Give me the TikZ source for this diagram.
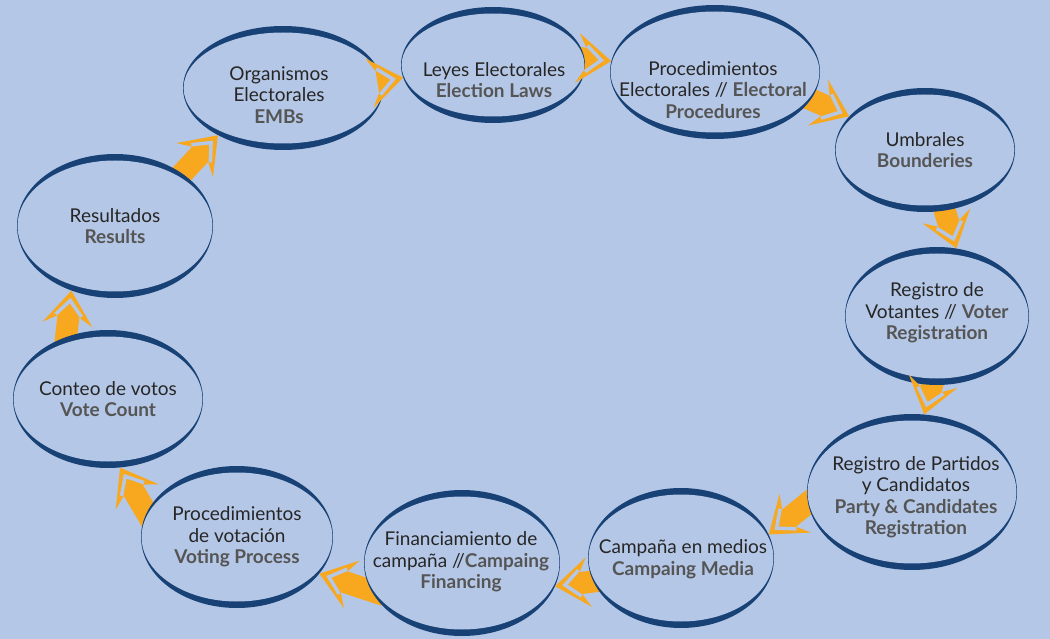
\documentclass[tikz,border=0pt]{standalone}
\usepackage{fontspec}
\setmainfont{Lato}
\usetikzlibrary{shapes.geometric,decorations.markings,calc}

\definecolor{paper}{RGB}{181,199,230}
\definecolor{rim}{RGB}{24,66,118}
\definecolor{gold}{RGB}{247,168,30}
\definecolor{ink}{RGB}{38,38,38}
\definecolor{engtext}{RGB}{85,85,85}

\pgfdeclarelayer{back}
\pgfdeclarelayer{flows}
\pgfsetlayers{back,flows,main}

\newcommand{\eng}[1]{{\color{engtext}\bfseries #1}}

\tikzset{
  stage/.style={ellipse, fill=rim, inner sep=0pt,
    path picture={\fill[paper] let \p1=(path picture bounding box.north east),
      \p2=(path picture bounding box.center) in
      (\p2) ellipse [x radius={\x1-\x2-0.6pt}, y radius={\y1-\y2-6.5pt}];}},
  caption/.style={align=center, text=ink, font=\fontsize{19}{21.5}\selectfont},
  flowstem/.style={draw=gold, line width=22pt, shorten <=-14pt, shorten >=20pt},
  flowhead/.style={postaction=decorate, decoration={markings,
    mark=at position 1 with {
      \fill[gold] (0,0) -- (-34pt,25pt) -- (-26pt,11pt) -- (-26pt,-11pt) -- (-34pt,-25pt) -- cycle;
      \draw[paper, line width=3.5pt, line join=miter] (-25pt,13pt) -- (-10pt,0pt) -- (-25pt,-13pt);}}}
}

\begin{document}
\begin{tikzpicture}[x=1pt, y=-1pt]
  \useasboundingbox (0,0) rectangle (1050,639);
  \begin{pgfonlayer}{back}
    \fill[paper] (0,0) rectangle (1050,639);
  \end{pgfonlayer}

  % the eleven stages
  \node[stage, minimum width=200pt, minimum height=124pt] (emb) at (283,88) {};
  \node[stage, minimum width=184pt, minimum height=116pt] (laws) at (493,65) {};
  \node[stage, minimum width=210pt, minimum height=134pt] (proc) at (715,72) {};
  \node[stage, minimum width=180pt, minimum height=124pt] (umbr) at (925,150) {};
  \node[stage, minimum width=184pt, minimum height=138pt] (voters) at (937,316) {};
  \node[stage, minimum width=210pt, minimum height=156pt] (parties) at (912,492) {};
  \node[stage, minimum width=186pt, minimum height=140pt] (media) at (681,558) {};
  \node[stage, minimum width=196pt, minimum height=146pt] (finance) at (462,563) {};
  \node[stage, minimum width=192pt, minimum height=142pt] (voting) at (237,537) {};
  \node[stage, minimum width=190pt, minimum height=138pt] (count) at (108,399) {};
  \node[stage, minimum width=196pt, minimum height=144pt] (results) at (115,226) {};

  % labels
  \node[caption] (embtxt) at (279,95) {Organismos\\Electorales\\\eng{EMBs}};
  \node[caption] (lawstxt) at (494,80) {Leyes Electorales\\\eng{Election Laws}};
  \node[caption] (proctxt) at (713,90) {Procedimientos\\Electorales // \eng{Electoral}\\\eng{Procedures}};
  \node[caption] (umbrtxt) at (925,150) {Umbrales\\\eng{Bounderies}};
  \node[caption] (voterstxt) at (937,313) {Registro de\\Votantes // \eng{Voter}\\\eng{Registration}};
  \node[caption] (partiestxt) at (916,497) {Registro de Partidos\\y Candidatos\\\eng{Party \& Candidates}\\\eng{Registration}};
  \node[caption] (mediatxt) at (683,559) {Campaña en medios\\\eng{Campaing Media}};
  \node[caption] (financetxt) at (461,562) {Financiamiento de\\campaña //\eng{Campaing}\\\eng{Financing}};
  \node[caption] (votingtxt) at (237,537) {Procedimientos\\de votación\\\eng{Voting Process}};
  \node[caption] (counttxt) at (108,399) {Conteo de votos\\\eng{Vote Count}};
  \node[caption] (resultstxt) at (115,226) {Resultados\\\eng{Results}};

  % cycle arrows: stems behind the rims, heads on top
  \begin{pgfonlayer}{flows}
    \draw[flowstem] (results.38) -- (emb.216);
    \draw[flowstem] (emb.4) -- (laws.188);
    \draw[flowstem] (laws.4) -- (proc.174);
    \draw[flowstem] (proc.-16) -- (umbr.156);
    \draw[flowstem] (umbr.-72) -- (voters.74);
    \draw[flowstem] (voters.-94) -- (parties.81);
    \draw[flowstem] (parties.186) -- (media.15);
    \draw[flowstem] (media.195) -- (finance.-14);
    \draw[flowstem] (finance.197) -- (voting.-24);
    \draw[flowstem] (voting.165) -- (count.-80);
    \draw[flowstem] (count.124) -- (results.-124);
  \end{pgfonlayer}
  \path[flowhead] (results.38) -- (emb.216);
  \path[flowhead] (emb.4) -- (laws.188);
  \path[flowhead] (laws.4) -- (proc.174);
  \path[flowhead] (proc.-16) -- (umbr.156);
  \path[flowhead] (umbr.-72) -- (voters.74);
  \path[flowhead] (voters.-94) -- (parties.81);
  \path[flowhead] (parties.186) -- (media.15);
  \path[flowhead] (media.195) -- (finance.-14);
  \path[flowhead] (finance.197) -- (voting.-24);
  \path[flowhead] (voting.165) -- (count.-80);
  \path[flowhead] (count.124) -- (results.-124);
\end{tikzpicture}
\end{document}
